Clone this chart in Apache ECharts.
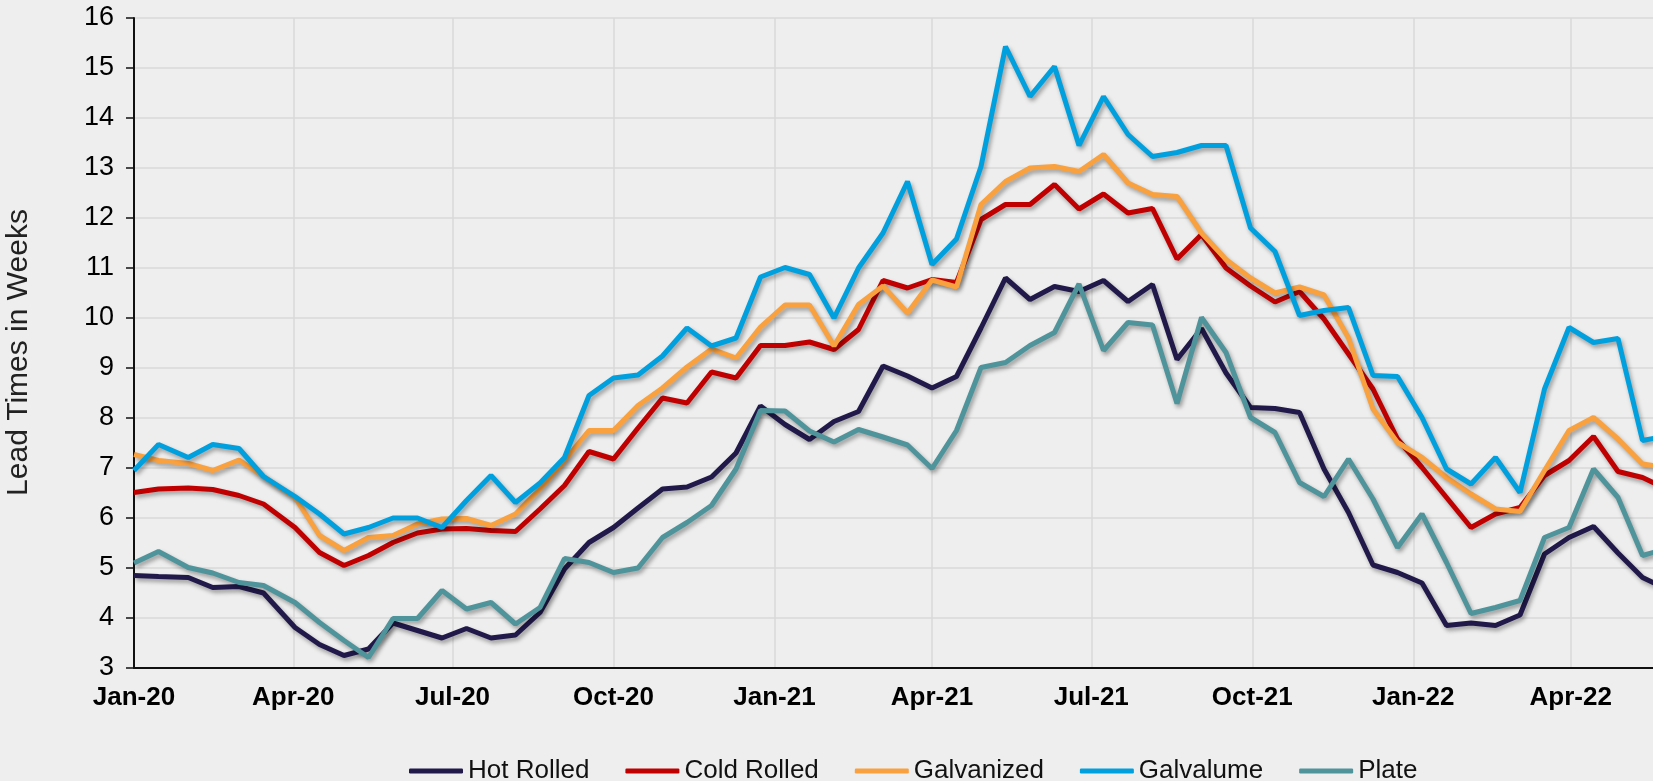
<!DOCTYPE html>
<html>
<head>
<meta charset="utf-8">
<title>Lead Times</title>
<script src="https://cdn.jsdelivr.net/npm/echarts@6/dist/echarts.min.js"></script>
<style>
  html, body { margin: 0; padding: 0; background: #eeeeee; }
  #main { width: 1653px; height: 781px; }
</style>
</head>
<body>
<div id="main"></div>
<script>
// survey dates (semi-monthly early 2020, then every two weeks)
var dates = [
  '2020-01-01','2020-01-15','2020-02-01','2020-02-15','2020-03-01','2020-03-15',
  '2020-04-02','2020-04-16','2020-04-30','2020-05-14','2020-05-28','2020-06-11','2020-06-25',
  '2020-07-09','2020-07-23','2020-08-06','2020-08-20','2020-09-03','2020-09-17','2020-10-01',
  '2020-10-15','2020-10-29','2020-11-12','2020-11-26','2020-12-10','2020-12-24',
  '2021-01-07','2021-01-21','2021-02-04','2021-02-18','2021-03-04','2021-03-18','2021-04-01',
  '2021-04-15','2021-04-29','2021-05-13','2021-05-27','2021-06-10','2021-06-24','2021-07-08',
  '2021-07-22','2021-08-05','2021-08-19','2021-09-02','2021-09-16','2021-09-30','2021-10-14',
  '2021-10-28','2021-11-11','2021-11-25','2021-12-09','2021-12-23',
  '2022-01-06','2022-01-20','2022-02-03','2022-02-17','2022-03-03','2022-03-17','2022-03-31',
  '2022-04-14','2022-04-28','2022-05-12','2022-05-26'
];

var hotRolled = [
  4.85, 4.83, 4.81, 4.61, 4.63, 4.5, 3.81, 3.47, 3.25, 3.38, 3.9, 3.75, 3.6, 3.79, 3.6, 3.66, 4.11, 4.98, 5.51, 5.81,
  6.2, 6.58, 6.62, 6.82, 7.3, 8.24, 7.87, 7.57, 7.93, 8.13, 9.04, 8.84, 8.6, 8.83, 9.8, 10.8, 10.37, 10.63, 10.53, 10.75,
  10.33, 10.67, 9.17, 9.79, 8.9, 8.21, 8.19, 8.11, 6.98, 6.11, 5.06, 4.91, 4.7, 3.85, 3.9, 3.85, 4.06, 5.28, 5.61, 5.83,
  5.3, 4.81, 4.58
];
var coldRolled = [
  6.51, 6.58, 6.6, 6.57, 6.45, 6.28, 5.81, 5.31, 5.05, 5.25, 5.51, 5.7, 5.78, 5.79, 5.75, 5.73, 6.18, 6.65, 7.33, 7.18,
  7.8, 8.4, 8.3, 8.92, 8.8, 9.45, 9.45, 9.52, 9.37, 9.77, 10.75, 10.6, 10.77, 10.71, 11.97, 12.27, 12.27, 12.67, 12.18, 12.48,
  12.1, 12.19, 11.18, 11.67, 11.0, 10.64, 10.32, 10.53, 9.98, 9.28, 8.58, 7.58, 7.01, 6.41, 5.81, 6.08, 6.21, 6.85, 7.15, 7.63,
  6.93, 6.81, 6.58
];
var galvanized = [
  7.27, 7.15, 7.09, 6.95, 7.16, 6.83, 6.41, 5.65, 5.35, 5.61, 5.65, 5.88, 5.98, 5.99, 5.85, 6.08, 6.58, 7.15, 7.75, 7.75,
  8.25, 8.6, 9.02, 9.38, 9.2, 9.82, 10.26, 10.26, 9.44, 10.27, 10.64, 10.1, 10.76, 10.62, 12.27, 12.73, 13.0, 13.03, 12.93, 13.27,
  12.7, 12.47, 12.43, 11.7, 11.17, 10.8, 10.5, 10.62, 10.46, 9.6, 8.18, 7.51, 7.21, 6.81, 6.48, 6.18, 6.13, 6.95, 7.75, 8.01,
  7.58, 7.08, 7.01
];
var galvalume = [
  6.95, 7.47, 7.21, 7.47, 7.39, 6.83, 6.43, 6.08, 5.68, 5.81, 6.0, 6.0, 5.81, 6.35, 6.85, 6.31, 6.7, 7.21, 8.45, 8.8,
  8.86, 9.24, 9.8, 9.44, 9.6, 10.82, 11.01, 10.87, 10.0, 11.0, 11.7, 12.73, 11.07, 11.58, 13.03, 15.43, 14.43, 15.03, 13.45, 14.43,
  13.67, 13.23, 13.31, 13.45, 13.45, 11.8, 11.33, 10.05, 10.15, 10.21, 8.85, 8.83, 8.01, 6.98, 6.68, 7.21, 6.51, 8.58, 9.81, 9.51,
  9.59, 7.55, 7.64
];
var plate = [
  5.1, 5.33, 5.01, 4.9, 4.71, 4.65, 4.31, 3.91, 3.55, 3.21, 3.99, 3.99, 4.55, 4.18, 4.31, 3.88, 4.21, 5.19, 5.11, 4.91,
  5.0, 5.61, 5.91, 6.25, 6.98, 8.15, 8.14, 7.74, 7.52, 7.77, 7.62, 7.46, 6.99, 7.75, 9.01, 9.11, 9.45, 9.71, 10.68, 9.35,
  9.91, 9.86, 8.29, 10.01, 9.31, 8.01, 7.71, 6.71, 6.43, 7.18, 6.38, 5.41, 6.08, 5.11, 4.09, 4.21, 4.35, 5.61, 5.81, 6.98,
  6.41, 5.25, 5.39
];

var seriesNames = ['Hot Rolled', 'Cold Rolled', 'Galvanized', 'Galvalume', 'Plate'];
var seriesColors = ['#21194a', '#c00000', '#f9a03f', '#00a0de', '#4f939b'];
var quarterTicks = [
  '2020-01-01','2020-04-01','2020-07-01','2020-10-01','2021-01-01','2021-04-01',
  '2021-07-01','2021-10-01','2022-01-01','2022-04-01'
];
var monthNames = ['Jan','Feb','Mar','Apr','May','Jun','Jul','Aug','Sep','Oct','Nov','Dec'];

var FONT = '"Liberation Sans", Arial, sans-serif';

// date string -> UTC timestamp
function ts(s) {
  var p = s.split('-');
  return Date.UTC(+p[0], +p[1] - 1, +p[2]);
}

function pairs(values) {
  return values.map(function (v, i) { return [ts(dates[i]), v]; });
}

var myChart = echarts.init(document.getElementById('main'));

var allValues = [hotRolled, coldRolled, galvanized, galvalume, plate];
var series = seriesNames.map(function (name, i) {
  return {
    name: name,
    type: 'line',
    data: pairs(allValues[i]),
    symbol: 'none',
    smooth: false,
    lineStyle: {
      width: 5,
      color: seriesColors[i],
      shadowColor: 'rgba(0,0,0,0.35)',
      shadowBlur: 4,
      shadowOffsetX: 2,
      shadowOffsetY: 3
    },
    itemStyle: { color: seriesColors[i] }
  };
});

var tickValues = quarterTicks.map(ts);

myChart.setOption({
  backgroundColor: '#eeeeee',
  animation: false,
  grid: {
    left: 134,
    top: 18,
    width: 1533,
    height: 650,
    containLabel: false,
    outerBoundsMode: 'none'
  },
  legend: {
    data: seriesNames,
    left: 404,
    top: 753,
    icon: 'roundRect',
    itemWidth: 54,
    itemHeight: 5,
    itemGap: 36,
    textStyle: { fontFamily: FONT, fontSize: 26, color: '#111111' }
  },
  xAxis: {
    type: 'value',
    min: ts('2020-01-01'),
    max: ts('2022-05-26'),
    axisLine: { show: true, onZero: false, lineStyle: { color: '#111111', width: 2 } },
    axisTick: { show: false, customValues: tickValues },
    splitLine: { show: true, lineStyle: { color: '#d9d9d9', width: 1.5 } },
    axisLabel: {
      customValues: tickValues,
      margin: 17,
      fontFamily: FONT,
      fontWeight: 'bold',
      fontSize: 26,
      color: '#000000',
      formatter: function (value) {
        var d = new Date(value);
        return monthNames[d.getUTCMonth()] + '-' + String(d.getUTCFullYear()).slice(2);
      }
    }
  },
  yAxis: {
    type: 'value',
    min: 3,
    max: 16,
    interval: 1,
    name: 'Lead Times in Weeks',
    nameLocation: 'middle',
    nameRotate: 90,
    nameGap: 100,
    nameMoveOverlap: false,
    nameTextStyle: { fontFamily: FONT, fontSize: 30, color: '#222222', padding: [0, 19, 0, 0] },
    axisLine: { show: true, lineStyle: { color: '#111111', width: 2 } },
    axisTick: { show: true, length: 8, lineStyle: { color: '#111111', width: 1.5 } },
    splitLine: { show: true, lineStyle: { color: '#d9d9d9', width: 1.5 } },
    axisLabel: {
      margin: 20,
      fontFamily: FONT,
      fontSize: 27,
      color: '#000000'
    }
  },
  series: series
});
</script>
</body>
</html>
